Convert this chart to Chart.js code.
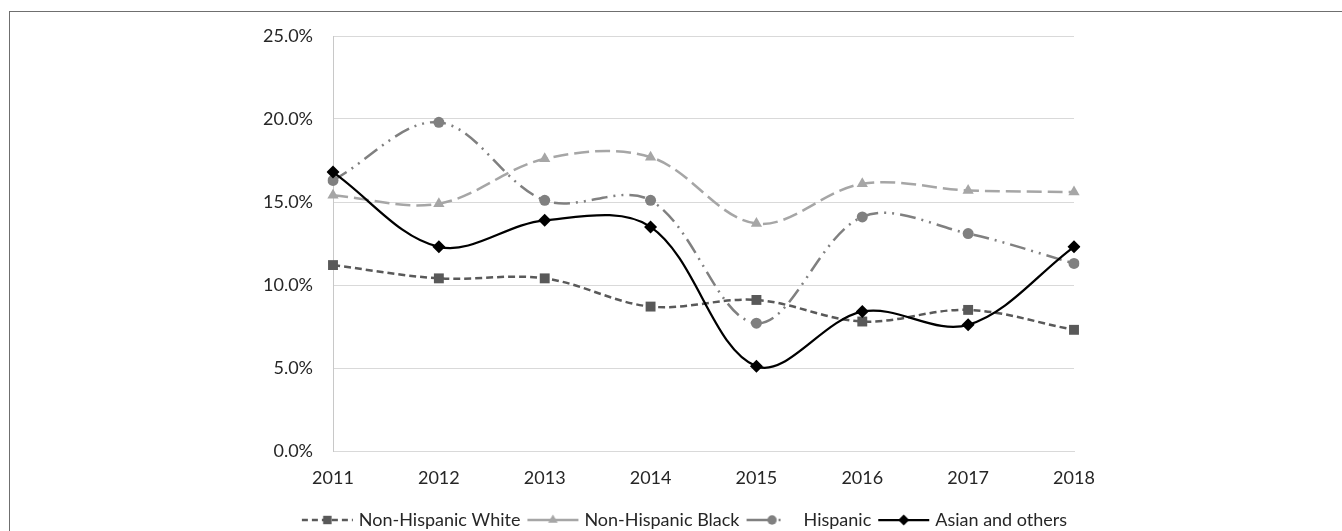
<!DOCTYPE html>
<html lang="en">
<head>
    <meta charset="UTF-8">
    <title>Share by group, 2011-2018</title>
    <script src="https://cdn.jsdelivr.net/npm/chart.js"></script>
    <style>
        body { margin: 0; background: #fff; }
        .wrap { position: relative; width: 1342px; height: 531px; overflow: hidden; }
        .frame { position: absolute; left: 9px; top: 11px; right: -5px; bottom: -5px;
                 border-top: 1px solid #6f6f6f; border-left: 1px solid #6f6f6f; }
        canvas { position: absolute; left: 0; top: 0; }
    </style>
</head>
<body>
<div class="wrap">
    <div class="frame"></div>
    <canvas id="trendChart" width="1342" height="531"></canvas>
</div>

<script>
// data (percent)
const years = ['2011', '2012', '2013', '2014', '2015', '2016', '2017', '2018'];
const nhWhite = [11.2, 10.4, 10.4, 8.7, 9.1, 7.8, 8.5, 7.3];
const nhBlack = [15.4, 14.9, 17.6, 17.7, 13.7, 16.1, 15.7, 15.6];
const hispanic = [16.3, 19.8, 15.1, 15.1, 7.7, 14.1, 13.1, 11.3];
const asianOthers = [16.8, 12.3, 13.9, 13.5, 5.1, 8.4, 7.6, 12.3];
const seriesNames = ['Non-Hispanic White', 'Non-Hispanic Black', 'Hispanic', 'Asian and others'];

const FONT = 'Lato, "Open Sans", sans-serif';
const TEXT = '#262626';

// little line+marker pictures for the legend
function legendIcon(color, dash, width, style, r) {
    const c = document.createElement('canvas');
    c.width = 53; c.height = 18;
    const ctx = c.getContext('2d');
    ctx.strokeStyle = color;
    ctx.lineWidth = width;
    ctx.setLineDash(dash);
    ctx.beginPath();
    ctx.moveTo(1, 9);
    ctx.lineTo(52, 9);
    ctx.stroke();
    ctx.setLineDash([]);
    ctx.fillStyle = color;
    Chart.helpers.drawPoint(ctx, { pointStyle: style, radius: r * 0.85, rotation: 0, borderWidth: 0 }, 26.5, 9);
    return c;
}

const styles = [
    { color: '#595959', dash: [7, 4], legendDash: [6, 4], width: 2.5, point: 'rect', r: 7 },
    { color: '#a6a6a6', dash: [15, 6], legendDash: [], width: 2.5, point: 'triangle', r: 6.5 },
    { color: '#808080', dash: [16, 6, 2, 6, 2, 6], legendDash: [21, 11, 2, 30], width: 2.5, point: 'circle', r: 5.5 },
    { color: '#000000', dash: [], legendDash: [], width: 2.25, point: 'rectRot', r: 6.5 }
];
const values = [nhWhite, nhBlack, hispanic, asianOthers];

const datasets = values.map((v, i) => ({
    label: seriesNames[i],
    data: v,
    borderColor: styles[i].color,
    backgroundColor: styles[i].color,
    borderWidth: styles[i].width,
    borderDash: styles[i].dash,
    pointStyle: styles[i].point,
    pointRadius: styles[i].r,
    pointBorderWidth: 0,
    pointBackgroundColor: styles[i].color,
    fill: false,
    tension: 0.35,
    order: 4 - i
}));

const icons = styles.map(s => legendIcon(s.color, s.legendDash, s.width, s.point, s.r));

// legend sits centred under the whole figure, not under the plot box
const legendShift = {
    id: 'legendShift',
    beforeDraw(chart) {
        const lg = chart.legend;
        const mid = 686;
        const d = mid - (lg.left + lg.right) / 2;
        lg.left += d;
        lg.right += d;
    }
};

new Chart(document.getElementById('trendChart'), {
    type: 'line',
    data: { labels: years, datasets: datasets },
    plugins: [legendShift],
    options: {
        responsive: false,
        animation: false,
        devicePixelRatio: 1,
        layout: { padding: { top: 36, left: 0, right: 268, bottom: -8 } },
        scales: {
            x: {
                offset: false,
                grid: { display: false, drawTicks: false },
                border: { color: '#d9d9d9' },
                ticks: { color: TEXT, font: { family: FONT, size: 18 }, padding: 16, maxRotation: 0 },
                afterFit: s => { s.height = 50; }
            },
            y: {
                min: 0,
                max: 25,
                grid: { color: '#d9d9d9', lineWidth: 1, drawTicks: false },
                border: { color: '#c8c8c8' },
                ticks: {
                    stepSize: 5,
                    padding: 20,
                    color: TEXT,
                    font: { family: FONT, size: 18 },
                    callback: v => Number(v).toFixed(1) + '%'
                },
                afterFit: s => { s.width = 333; }
            }
        },
        plugins: {
            tooltip: { enabled: false },
            legend: {
                position: 'bottom',
                labels: {
                    usePointStyle: true,
                    pointStyleWidth: 45,
                    padding: 10,
                    color: TEXT,
                    font: { family: FONT, size: 18 },
                    generateLabels: chart => chart.data.datasets.map((ds, i) => ({
                        text: ds.label,
                        pointStyle: icons[i],
                        datasetIndex: i,
                        hidden: false,
                        lineWidth: 0,
                        fillStyle: 'transparent',
                        strokeStyle: 'transparent',
                        fontColor: TEXT
                    }))
                }
            }
        }
    }
});
</script>
</body>
</html>
